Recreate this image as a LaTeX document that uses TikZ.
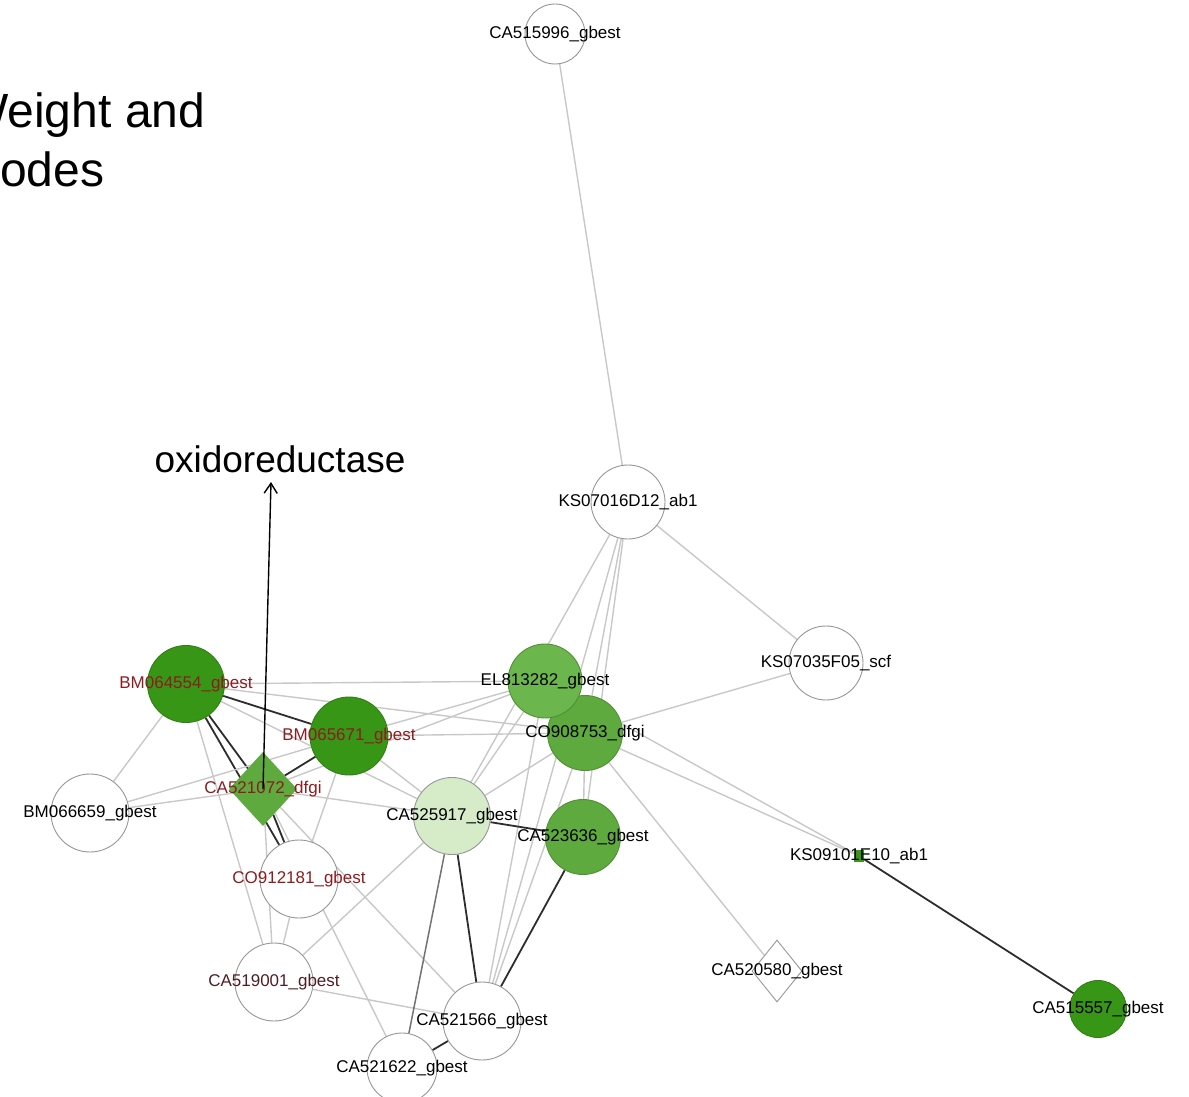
\documentclass[tikz,border=0pt]{standalone}
\usepackage{fontspec}
\setmainfont{Liberation Sans}
\usepackage{tikz}
\usetikzlibrary{shapes,backgrounds,arrows.meta}
\definecolor{dkgreen}{RGB}{56,150,22}
\definecolor{mdgreen}{RGB}{94,170,62}
\definecolor{elgreen}{RGB}{108,182,78}
\definecolor{ltgreen}{RGB}{214,236,200}
\definecolor{rimgray}{RGB}{150,150,150}
\definecolor{edgegray}{RGB}{200,200,200}
\definecolor{edgemid}{RGB}{115,115,115}
\definecolor{edgedark}{RGB}{45,45,45}
\definecolor{lblred}{RGB}{140,28,32}
\definecolor{lbldark}{RGB}{80,30,34}
\newcommand{\lblfont}{\fontsize{17}{17}\selectfont}
\tikzset{
	vert/.style={circle,inner sep=0pt,fill=white,draw=rimgray,line width=0.9pt,minimum size=76pt},
	dvert/.style={vert,fill=dkgreen,draw=dkgreen!85!black},
	mvert/.style={vert,fill=mdgreen,draw=mdgreen!85!black},
	lvert/.style={vert,fill=ltgreen,draw=rimgray},
	dmnd/.style={diamond,inner sep=0pt,fill=white,draw=rimgray,line width=0.9pt},
	every label/.style={font=\lblfont,text=black,inner sep=0pt},
	edge/.style={color=edgegray, line width=1.4pt},
	midedge/.style={color=edgemid, line width=1.5pt},
	darkedge/.style={color=edgedark, line width=1.8pt},
	pointer/.style={-{Straight Barb[length=10pt,width=13pt]},line width=1.4pt,color=black},
	bigtext/.style={inner sep=0pt,anchor=base west,font=\fontsize{48}{48}\selectfont}
}
\begin{document}
\begin{tikzpicture}[x=1pt,y=-1pt]
	\useasboundingbox (0,0) rectangle (1189,1097);
	\clip (0,0) rectangle (1189,1097);

	%% title, cut at the left
	\node[bigtext] (titleA) at (-37,128) {Weight and};
	\node[bigtext] (titleB) at (0,186) {odes};

	%% upper nodes
	\node[vert,minimum size=60pt,label=center:CA515996\_gbest] (ca515996) at (555,34) {};
	\node[vert,minimum size=74pt,label=center:KS07016D12\_ab1] (ks07016d12) at (628,502) {};
	\node[vert,minimum size=74pt,label=center:KS07035F05\_scf] (ks07035f05) at (826,663) {};

	%% green cluster
	\node[mvert,minimum size=75pt,label=center:CO908753\_dfgi] (co908753) at (585,733) {};
	\node[mvert,fill=elgreen,minimum size=74pt,label=center:EL813282\_gbest] (el813282) at (545,681) {};
	\node[dvert,minimum size=77pt,label={[text=lblred]center:BM064554\_gbest}] (bm064554) at (186,684) {};
	\node[dvert,minimum size=78pt,label={[text=lblred]center:BM065671\_gbest}] (bm065671) at (349,736) {};
	\node[dmnd,fill=mdgreen,draw=mdgreen,minimum width=67pt,minimum height=73pt,label={[text=lblred]center:CA521072\_dfgi}] (ca521072) at (263,789) {};
	\node[lvert,minimum size=77pt,label=center:CA525917\_gbest] (ca525917) at (452,816) {};
	\node[mvert,minimum size=75pt,label=center:CA523636\_gbest] (ca523636) at (583,837) {};

	%% white nodes below
	\node[vert,minimum size=78pt,label=center:BM066659\_gbest] (bm066659) at (90,813) {};
	\node[vert,minimum size=78pt,label={[text=lblred]center:CO912181\_gbest}] (co912181) at (299,879) {};
	\node[vert,minimum size=78pt,label={[text=lbldark]center:CA519001\_gbest}] (ca519001) at (274,982) {};
	\node[vert,minimum size=78pt,label=center:CA521566\_gbest] (ca521566) at (482,1021) {};
	\node[vert,minimum size=70pt,label=center:CA521622\_gbest] (ca521622) at (402,1068) {};

	%% right side
	\node[dmnd,minimum width=50pt,minimum height=62pt,label=center:CA520580\_gbest] (ca520580) at (777,971) {};
	\node[rectangle,inner sep=0pt,fill=dkgreen,minimum width=10pt,minimum height=12pt,label=center:KS09101E10\_ab1] (ks09101e10) at (859,856) {};
	\node[dvert,minimum size=57pt,label=center:CA515557\_gbest] (ca515557) at (1098,1009) {};

	\begin{scope}[on background layer]
	%%% edges of the upper nodes
	\draw[edge] (ca515996) -- (ks07016d12);
	\draw[edge] (ks07016d12) -- (ks07035f05);
	\draw[edge] (ks07016d12) -- (ca525917);
	\draw[edge] (ks07016d12) -- (co908753);
	\draw[edge] (ks07016d12) -- (ca523636);
	\draw[edge] (ks07016d12) -- (ca521566);
	\draw[edge] (ks07035f05) -- (co908753);

	%%% edges to the right
	\draw[edge] (el813282) -- (ks09101e10);
	\draw[edge] (co908753) -- (ks09101e10);
	\draw[edge] (co908753) -- (ca520580);
	\draw[darkedge] (ks09101e10) -- (ca515557);

	%%% edges of BM064554_gbest
	\draw[edge] (bm064554) -- (el813282);
	\draw[edge] (bm064554) -- (co908753);
	\draw[edge] (bm064554) -- (bm066659);
	\draw[edge] (bm064554) -- (ca519001);
	\draw[edge] (bm064554) -- (ca525917);
	\draw[darkedge] (bm064554) -- (bm065671);
	\draw[darkedge] (bm064554) -- (ca521072);
	\draw[darkedge] (bm064554) -- (co912181);

	%%% edges of BM065671_gbest
	\draw[edge] (bm065671) -- (co908753);
	\draw[edge] (bm065671) -- (el813282);
	\draw[edge] (bm065671) -- (co912181);
	\draw[edge] (bm065671) -- (ca525917);
	\draw[edge] (bm066659) -- (bm065671);
	\draw[darkedge] (bm065671) -- (ca521072);

	%%% edges of CA521072_dfgi
	\draw[edge] (bm066659) -- (ca521072);
	\draw[edge] (ca521072) -- (ca525917);
	\draw[edge] (ca521072) -- (ca519001);
	\draw[edge] (ca521072) -- (ca521566);
	\draw[edge] (ca521072) -- (ca521622);
	\draw[edge] (ca521072) -- (el813282);
	\draw[darkedge] (ca521072) -- (co912181);

	%%% edges at the bottom
	\draw[edge] (co912181) -- (ca519001);
	\draw[edge] (ca519001) -- (ca525917);
	\draw[edge] (ca519001) -- (ca521566);
	\draw[edge] (ca525917) -- (co908753);
	\draw[edge] (ca525917) -- (el813282);
	\draw[edge] (ca523636) -- (co908753);
	\draw[edge] (co908753) -- (ca521566);
	\draw[edge] (el813282) -- (ca521566);
	\draw[midedge] (ca525917) -- (ca521622);
	\draw[darkedge] (ca525917) -- (ca523636);
	\draw[darkedge] (ca525917) -- (ca521566);
	\draw[darkedge] (ca523636) -- (ca521566);
	\draw[darkedge] (ca521566) -- (ca521622);
	\end{scope}

	%% pointer to the diamond
	\node[inner sep=0pt,anchor=base,font=\fontsize{37}{37}\selectfont] (oxlabel) at (280,472) {oxidoreductase};
	\coordinate (oxtip) at (271,482);
	\draw[pointer] (ca521072.center) -- (oxtip);
\end{tikzpicture}
\end{document}
